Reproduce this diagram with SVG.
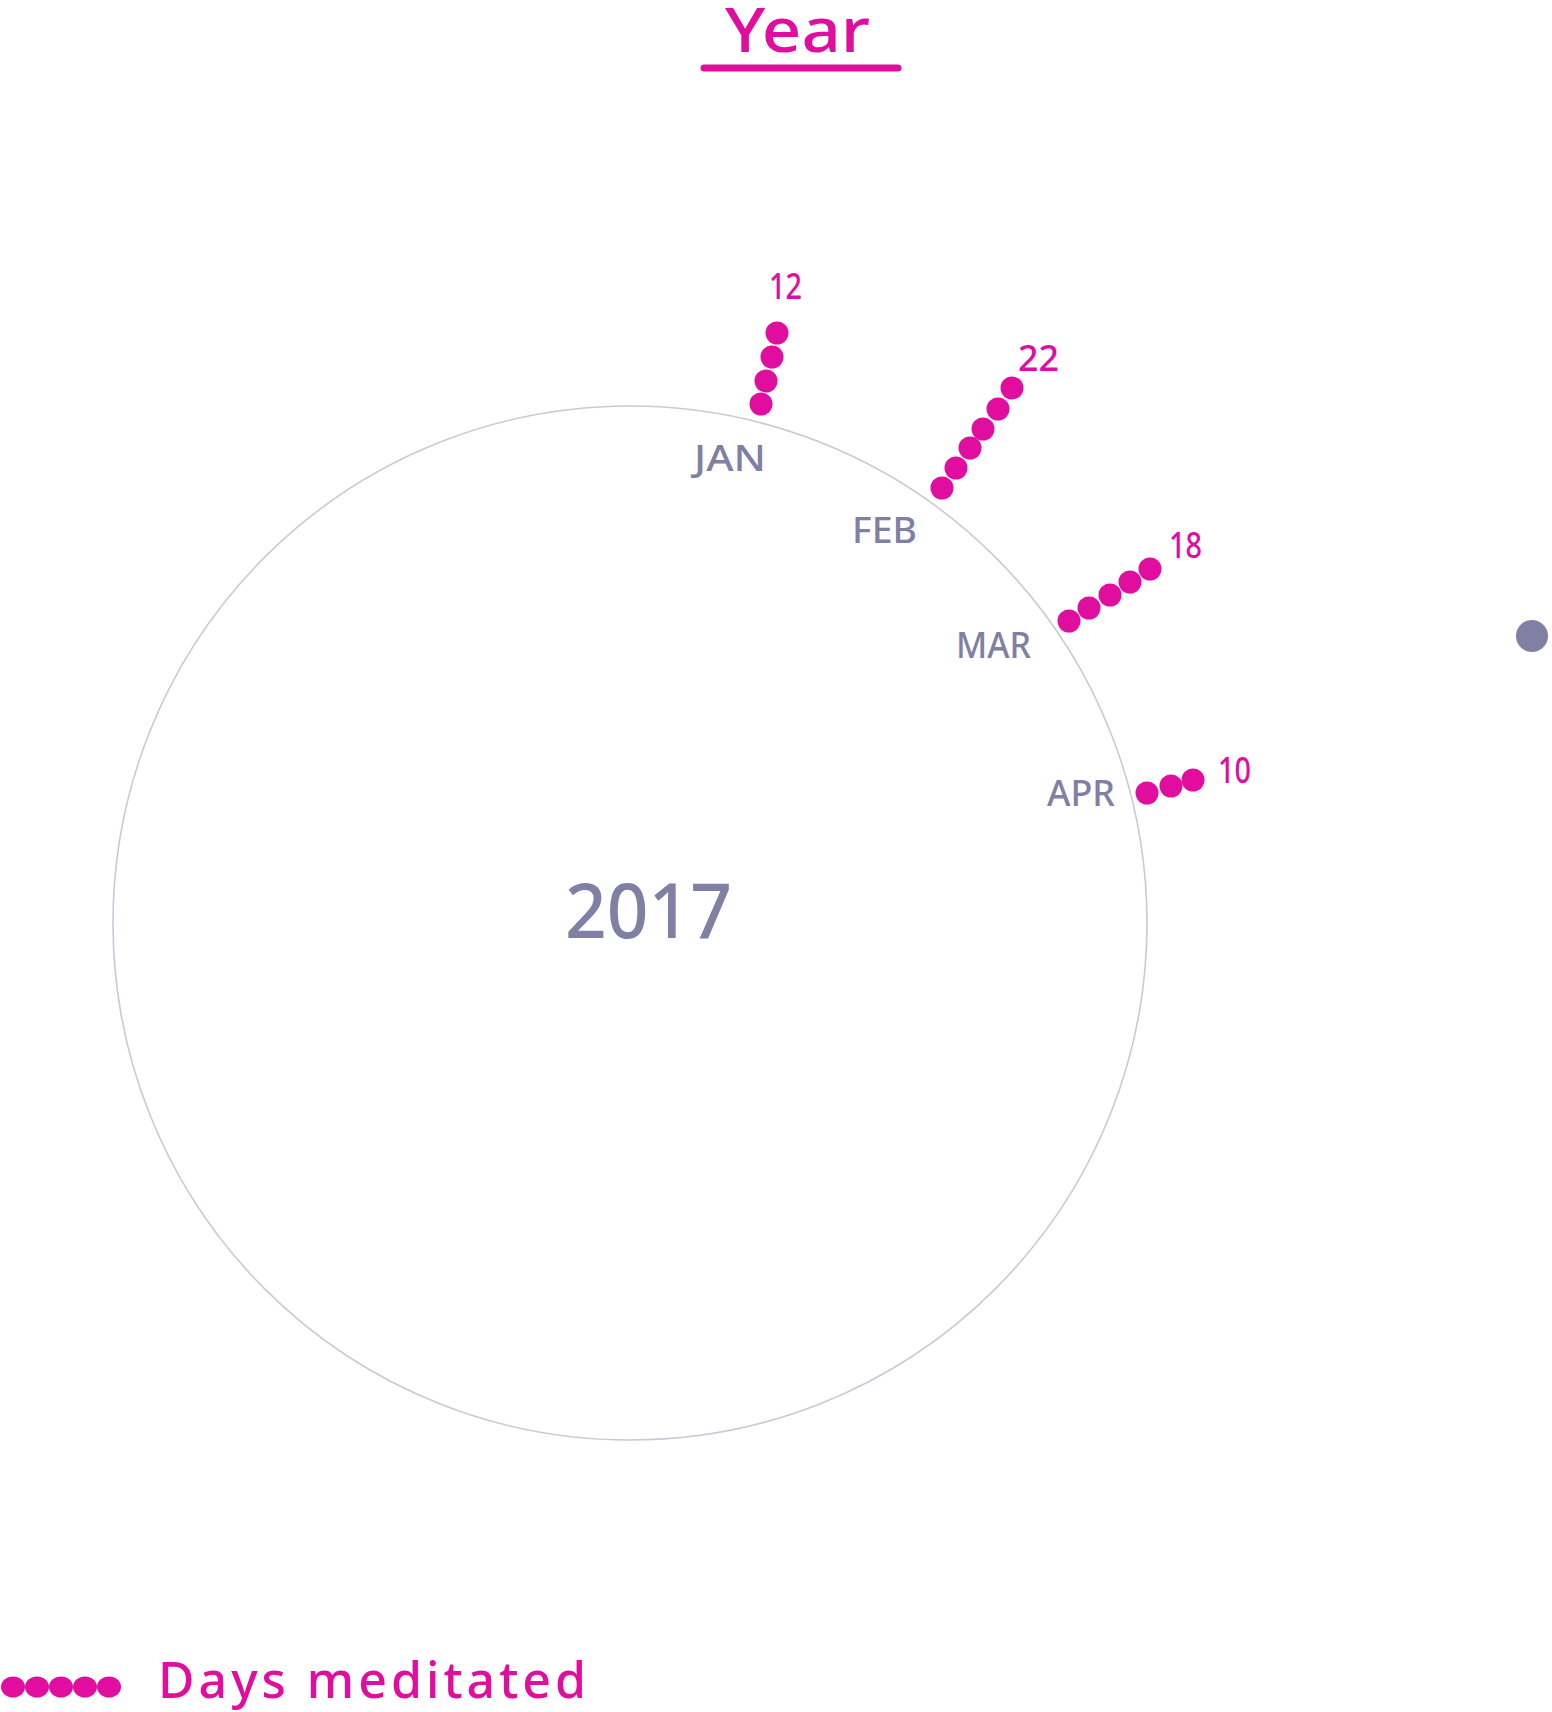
<svg xmlns="http://www.w3.org/2000/svg" width="1552" height="1712" viewBox="0 0 1552 1712">
<style>
text{font-family:"Noto Sans","Open Sans",sans-serif;font-weight:500}
.pink{fill:#e10d9e}
.gray{fill:#7f80a3}
.lbl{font-size:36px}
.dot{fill:#e10d9e}
</style>
<rect width="1552" height="1712" fill="#ffffff"/>
<g id="title">
<text class="pink" x="725" y="52" font-size="62" textLength="145" lengthAdjust="spacingAndGlyphs">Year</text>
<line x1="704" y1="68" x2="898" y2="68" stroke="#e10d9e" stroke-width="7" stroke-linecap="round"/>
</g>
<g id="year-circle">
<circle cx="630" cy="923" r="517" fill="none" stroke="#c9c9da" stroke-width="1.6"/>
<text class="gray" x="565" y="938" font-size="76" textLength="167" lengthAdjust="spacingAndGlyphs">2017</text>
</g>
<g id="jan">
<circle class="dot" cx="761" cy="404" r="11.5"/>
<circle class="dot" cx="766" cy="381" r="11.5"/>
<circle class="dot" cx="772" cy="357" r="11.5"/>
<circle class="dot" cx="777" cy="333" r="11.5"/>
<text class="gray lbl" x="694" y="471" textLength="72" lengthAdjust="spacingAndGlyphs">JAN</text>
<text class="pink lbl" x="769" y="299" textLength="33" lengthAdjust="spacingAndGlyphs">12</text>
</g>
<g id="feb">
<circle class="dot" cx="942" cy="488" r="11.5"/>
<circle class="dot" cx="956" cy="468" r="11.5"/>
<circle class="dot" cx="970" cy="448" r="11.5"/>
<circle class="dot" cx="983" cy="429" r="11.5"/>
<circle class="dot" cx="998" cy="409" r="11.5"/>
<circle class="dot" cx="1012" cy="388" r="11.5"/>
<text class="gray lbl" x="852" y="543" textLength="65" lengthAdjust="spacingAndGlyphs">FEB</text>
<text class="pink lbl" x="1018" y="371" textLength="41" lengthAdjust="spacingAndGlyphs">22</text>
</g>
<g id="mar">
<circle class="dot" cx="1069" cy="621" r="11.5"/>
<circle class="dot" cx="1089" cy="608" r="11.5"/>
<circle class="dot" cx="1110" cy="595" r="11.5"/>
<circle class="dot" cx="1130" cy="582" r="11.5"/>
<circle class="dot" cx="1150" cy="569" r="11.5"/>
<text class="gray lbl" x="956" y="658" textLength="75" lengthAdjust="spacingAndGlyphs">MAR</text>
<text class="pink lbl" x="1169" y="558" textLength="33" lengthAdjust="spacingAndGlyphs">18</text>
</g>
<g id="apr">
<circle class="dot" cx="1147" cy="793" r="11.5"/>
<circle class="dot" cx="1171" cy="786" r="11.5"/>
<circle class="dot" cx="1193" cy="780" r="11.5"/>
<text class="gray lbl" x="1047" y="806" textLength="68" lengthAdjust="spacingAndGlyphs">APR</text>
<text class="pink lbl" x="1218" y="783" textLength="33" lengthAdjust="spacingAndGlyphs">10</text>
</g>
<g id="marker">
<circle cx="1532" cy="636" r="16" fill="#7f80a3"/>
</g>
<g id="legend">
<ellipse class="dot" cx="13" cy="1687" rx="12" ry="10.5"/>
<ellipse class="dot" cx="37" cy="1687" rx="12" ry="10.5"/>
<ellipse class="dot" cx="61" cy="1687" rx="12" ry="10.5"/>
<ellipse class="dot" cx="85" cy="1687" rx="12" ry="10.5"/>
<ellipse class="dot" cx="109" cy="1687" rx="12" ry="10.5"/>
<text class="pink" x="158" y="1698" font-size="50" textLength="428" lengthAdjust="spacing">Days meditated</text>
</g>
</svg>
